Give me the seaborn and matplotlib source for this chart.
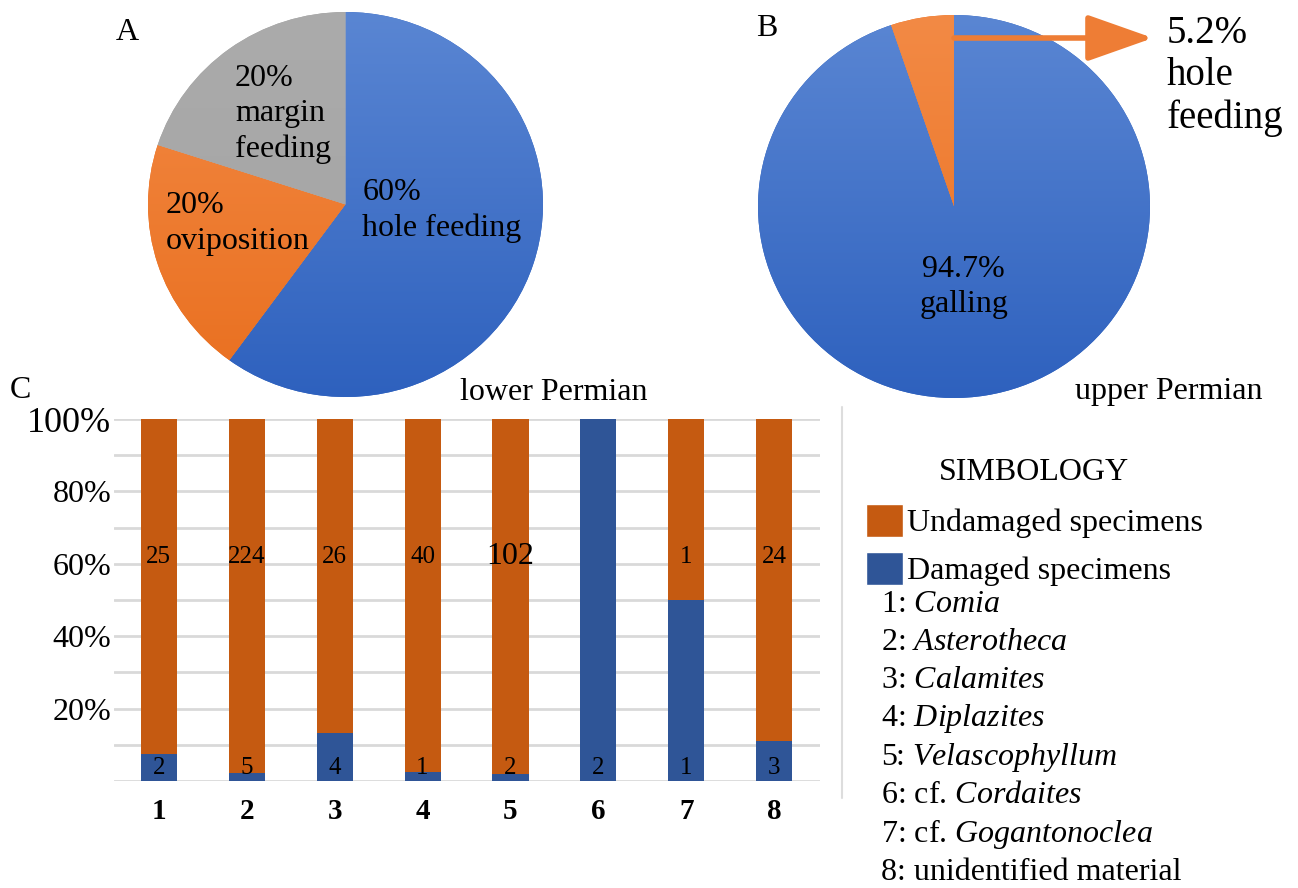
import numpy as np
import pandas as pd
import matplotlib
matplotlib.use('Agg')
import matplotlib.pyplot as plt
from matplotlib.patches import Patch, FancyArrowPatch
from matplotlib.lines import Line2D
from matplotlib.colors import LinearSegmentedColormap
import seaborn as sns

# pie A - lower Permian
lower_labels = ['hole feeding', 'oviposition', 'margin feeding']
lower_pct = [60, 20, 20]
# pie B - upper Permian
upper_labels = ['galling', 'hole feeding']
upper_pct = [94.7, 5.2]

# bar chart C
taxa = ['1', '2', '3', '4', '5', '6', '7', '8']
undamaged = [25, 224, 26, 40, 102, 0, 1, 24]
damaged = [2, 5, 4, 1, 2, 2, 1, 3]
legend_names = [r'1: $\mathit{Comia}$', r'2: $\mathit{Asterotheca}$', r'3: $\mathit{Calamites}$',
                r'4: $\mathit{Diplazites}$', r'5: $\mathit{Velascophyllum}$',
                r'6: cf. $\mathit{Cordaites}$', r'7: cf. $\mathit{Gogantonoclea}$',
                '8: unidentified material']

sns.set_theme(style='white')
plt.rcParams['font.family'] = ['Liberation Serif', 'DejaVu Serif']
plt.rcParams['mathtext.fontset'] = 'custom'
plt.rcParams['mathtext.rm'] = 'Liberation Serif'
plt.rcParams['mathtext.it'] = 'Liberation Serif:italic'
plt.rcParams['text.color'] = 'black'
plt.rcParams['xtick.color'] = 'black'
plt.rcParams['ytick.color'] = 'black'

W, H = 1298, 888
fig = plt.figure(figsize=(W / 100, H / 100), dpi=100)
fig.patch.set_facecolor('white')

def px_axes(x0, y0, x1, y1):
    # pixel box (top-left origin) -> figure axes
    return fig.add_axes([x0 / W, 1 - y1 / H, (x1 - x0) / W, (y1 - y0) / H])

# (top, bottom) colours for the office-style shaded wedges
pie_blue = ('#5A86D3', '#2E61BE')
pie_orange = ('#F38A45', '#E96F1F')
pie_gray = ('#ABABAB', '#A3A3A3')
bar_orange, bar_blue = '#C55A11', '#2F5597'
fs = 23

def shaded_pie(ax, values, shades):
    wedges, _ = ax.pie(values, colors=[s[1] for s in shades], startangle=90,
                       counterclock=False, radius=1, wedgeprops=dict(linewidth=0))
    grad = np.linspace(0, 1, 256)[:, None]
    for w, (c0, c1) in zip(wedges, shades):
        cmap = LinearSegmentedColormap.from_list('', [c0, c1])
        im = ax.imshow(grad, cmap=cmap, extent=(-1, 1, -1, 1), aspect='auto',
                       interpolation='bilinear', zorder=w.get_zorder() + 0.1)
        im.set_clip_path(w)
    ax.set_aspect('auto')
    ax.set_xlim(-1, 1)
    ax.set_ylim(-1, 1)
    ax.axis('off')

# ---- pie A
axA = px_axes(148, 12, 543, 397)
shaded_pie(axA, lower_pct, [pie_blue, pie_orange, pie_gray])
axA.text(0.086, -0.03, f'{lower_pct[0]}%\n{lower_labels[0]}', fontsize=fs,
         ha='left', va='center', linespacing=1.3, zorder=5)
axA.text(-0.91, -0.10, f'{lower_pct[1]}%\n{lower_labels[1]}', fontsize=fs,
         ha='left', va='center', linespacing=1.3, zorder=5)
axA.text(-0.56, 0.47, f'{lower_pct[2]}%\nmargin\nfeeding', fontsize=fs,
         ha='left', va='center', linespacing=1.3, zorder=5)

# ---- pie B
axB = px_axes(758, 15, 1150, 398)
shaded_pie(axB, upper_pct, [pie_blue, pie_orange])
axB.text(0.05, -0.42, f'{upper_pct[0]}%\n{upper_labels[0]}', fontsize=fs,
         ha='center', va='center', linespacing=1.3, zorder=5)

arrow = FancyArrowPatch((954 / W, 1 - 38 / H), (1153 / W, 1 - 38 / H),
                        transform=fig.transFigure,
                        arrowstyle='-|>,head_length=3.4,head_width=1.2',
                        mutation_scale=12, lw=4, color='#EE7D35',
                        shrinkA=0, shrinkB=0)
fig.add_artist(arrow)
fig.text(1167 / W, 1 - 76 / H, f'{upper_pct[1]}%\nhole\nfeeding', fontsize=28,
         ha='left', va='center', linespacing=1.2)

# panel letters / captions
fig.text(127 / W, 1 - 33 / H, 'A', fontsize=fs, ha='center', va='center')
fig.text(767 / W, 1 - 28 / H, 'B', fontsize=fs, ha='center', va='center')
fig.text(20 / W, 1 - 390 / H, 'C', fontsize=fs, ha='center', va='center')
fig.text(460 / W, 1 - 392 / H, 'lower Permian', fontsize=fs, ha='left', va='center')
fig.text(1075 / W, 1 - 392 / H, 'upper Permian', fontsize=fs, ha='left', va='center')

# ---- bar chart C
df = pd.DataFrame({'taxon': taxa, 'undamaged': undamaged, 'damaged': damaged})
df['total'] = df['undamaged'] + df['damaged']
df['all_frac'] = df['total'] / df['total']
df['dam_frac'] = df['damaged'] / df['total']

axC = px_axes(114, 419, 820, 781)
sns.barplot(data=df, x='taxon', y='all_frac', color=bar_orange, width=0.41,
            saturation=1, ax=axC, zorder=3)
sns.barplot(data=df, x='taxon', y='dam_frac', color=bar_blue, width=0.41,
            saturation=1, ax=axC, zorder=3)
for p in axC.patches:
    p.set_linewidth(0)

for i, (u, d) in enumerate(zip(undamaged, damaged)):
    if u > 0:
        axC.text(i, 0.62, str(u), fontsize=23 if u == 102 else 18,
                 ha='center', va='center', zorder=5)
    axC.text(i, 0.035, str(d), fontsize=18, ha='center', va='center', zorder=5)

axC.set_xlim(-0.51, 7.52)
axC.set_ylim(0, 1)
axC.set_yticks(np.arange(0, 1.01, 0.1))
axC.set_yticklabels(['' if round(t * 100) % 20 or t == 0 else f'{round(t * 100)}%'
                     for t in np.arange(0, 1.01, 0.1)], fontsize=fs)
axC.get_yticklabels()[-1].set_fontsize(26)
axC.grid(axis='y', color='#D9D9D9', lw=2, zorder=0)
axC.set_axisbelow(True)
axC.tick_params(axis='y', length=0, pad=2)
axC.tick_params(axis='x', length=0, pad=12)
for lab in axC.get_xticklabels():
    lab.set_fontsize(21)
    lab.set_fontweight('bold')
axC.set_xlabel('')
axC.set_ylabel('')
sns.despine(ax=axC, left=True, bottom=True)

# separator line
fig.add_artist(Line2D([842 / W, 842 / W], [1 - 407 / H, 1 - 798 / H],
                      transform=fig.transFigure, color='#DDDDDD', lw=1.5))

# legend
handles = [Patch(facecolor=bar_orange), Patch(facecolor=bar_blue)]
leg = fig.legend(handles, ['Undamaged specimens', 'Damaged specimens'],
                 title='SIMBOLOGY', loc='upper left',
                 bbox_to_anchor=(866 / W, 1 - 458 / H), frameon=False,
                 fontsize=fs, title_fontsize=fs, handlelength=1.15,
                 handleheight=1.25, handletextpad=0.12, labelspacing=0.42,
                 borderpad=0, borderaxespad=0)
leg._legend_box.sep = 12

for i, name in enumerate(legend_names):
    fig.text(881 / W, 1 - (604 + 38.3 * i) / H, name, fontsize=fs,
             ha='left', va='center')

plt.savefig('out.png', dpi=100, facecolor='white')
